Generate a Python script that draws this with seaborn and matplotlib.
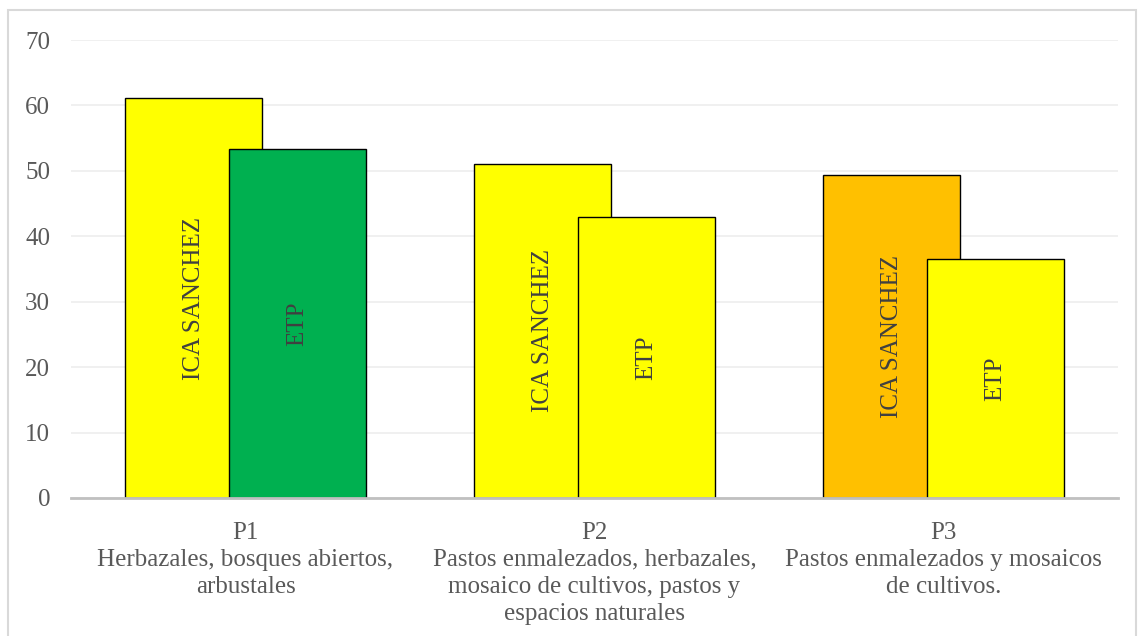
import matplotlib
matplotlib.use('Agg')
import matplotlib.pyplot as plt
from matplotlib.patches import Rectangle
import numpy as np
import pandas as pd
import seaborn as sns

# data
categories = ['P1\nHerbazales, bosques abiertos,\narbustales',
              'P2\nPastos enmalezados, herbazales,\nmosaico de cultivos, pastos y\nespacios naturales',
              'P3\nPastos enmalezados y mosaicos\nde cultivos.']
ica_values = [61.1, 51.1, 49.3]
etp_values = [53.3, 43.0, 36.6]
ica_colors = ['#FFFF00', '#FFFF00', '#FFC000']
etp_colors = ['#00B050', '#FFFF00', '#FFFF00']
series_labels = ['ICA SANCHEZ', 'ETP']
yticks = [0, 10, 20, 30, 40, 50, 60, 70]

sns.set_style('white')
plt.rcParams['font.family'] = ['Liberation Serif', 'DejaVu Serif']

fig = plt.figure(figsize=(11.42, 6.36), dpi=100)
ax = fig.add_axes([0.0622, 0.217, 0.9168, 0.72])

bar_width = 0.393
offset = 0.149

df_ica = pd.DataFrame({'cat': categories, 'value': ica_values})
df_etp = pd.DataFrame({'cat': categories, 'value': etp_values})

sns.barplot(data=df_ica, x='cat', y='value', hue='cat', palette=ica_colors,
            saturation=1, width=bar_width, edgecolor='black', linewidth=1,
            legend=False, ax=ax)
n_ica = len(ax.patches)
sns.barplot(data=df_etp, x='cat', y='value', hue='cat', palette=etp_colors,
            saturation=1, width=bar_width, edgecolor='black', linewidth=1,
            legend=False, ax=ax)

# shift the two series so they overlap like the original
for i, patch in enumerate(ax.patches):
    shift = -offset if i < n_ica else offset
    patch.set_x(patch.get_x() + shift)
    patch.set_zorder(2 if i < n_ica else 3)
    label = series_labels[0] if i < n_ica else series_labels[1]
    ax.text(patch.get_x() + patch.get_width() / 2, patch.get_height() / 2, label,
            rotation=90, ha='center', va='center', fontsize=18, color='#404040',
            zorder=4)

ax.set_ylim(0, 70)
ax.set_xlim(-0.5, 2.5)
ax.set_yticks(yticks)
ax.yaxis.grid(True, color='#EDEDED', linewidth=1.2, zorder=0)
ax.set_axisbelow(True)
ax.set_xlabel('')
ax.set_ylabel('')
for side in ['left', 'right', 'top']:
    ax.spines[side].set_visible(False)
ax.spines['bottom'].set_color('#C0C0C0')
ax.spines['bottom'].set_linewidth(2)
ax.spines['bottom'].set_zorder(5)
ax.tick_params(axis='y', length=0, pad=15, labelsize=18, labelcolor='#595959')
ax.tick_params(axis='x', length=0, pad=17, labelsize=18, labelcolor='#595959')
for lbl in ax.get_xticklabels():
    lbl.set_multialignment('center')
    lbl.set_linespacing(1.3)

fig.patches.append(Rectangle((8 / 1142, -0.01), 1128 / 1142, 1 - 10 / 636 + 0.01,
                             transform=fig.transFigure, fill=False,
                             edgecolor='#D9D9D9', linewidth=1.5))

fig.savefig('out.png', dpi=100)
